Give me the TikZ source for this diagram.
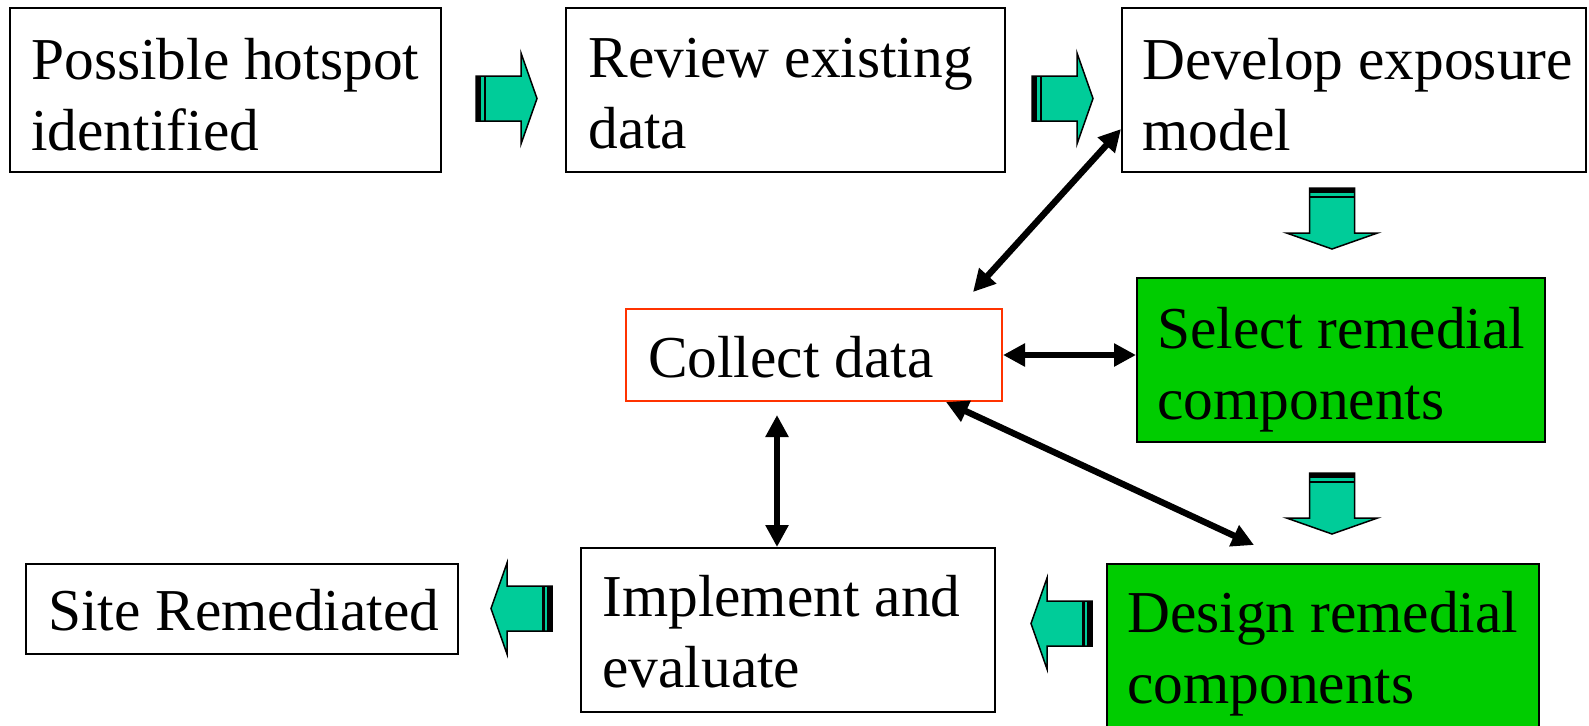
\documentclass[tikz,border=0pt]{standalone}
\usepackage{fontspec}
\setmainfont{Liberation Serif}
\usetikzlibrary{arrows.meta, positioning, calc}
\definecolor{arrowteal}{RGB}{0,204,153}
\definecolor{boxgreen}{RGB}{0,204,0}
\definecolor{collectred}{RGB}{255,51,0}

% striped block arrow, pointing right from its tail
\tikzset{
  stripearrow/.pic={
    \filldraw[fill=arrowteal, draw=black, line width=0.75pt]
      (0,-22.5) -- (45,-22.5) -- (45,-45.5) -- (61,0) -- (45,45.5) -- (45,22.5) -- (0,22.5) -- cycle;
    \fill[black] (0,-22.5) rectangle (5,22.5);
    \fill[black] (7.5,-22.5) rectangle (10,22.5);
  }
}

\begin{document}
\begin{tikzpicture}[
    x=0.5pt, y=-0.5pt,
    every node/.style={font=\fontsize{29.7}{35.5}\selectfont},
    box/.style={rectangle, draw=black, line width=1pt, inner sep=0pt},
    txt/.style={inner sep=0pt, align=left},
    biarrow/.style={{Triangle[length=11pt,width=11pt]}-{Triangle[length=11pt,width=11pt]}, line width=3.2pt}
]
\useasboundingbox (0,0) rectangle (1589,725);

% boxes
\node[box, minimum width=215.5pt, minimum height=82pt] (hotspot) at (225.5,90) {};
\node[box, minimum width=219.5pt, minimum height=82pt] (review) at (785.5,90) {};
\node[box, minimum width=232pt, minimum height=82pt] (develop) at (1354,90) {};
\node[box, draw=collectred, minimum width=188pt, minimum height=46pt] (collect) at (814,355) {};
\node[box, fill=boxgreen, minimum width=204pt, minimum height=82pt] (select) at (1341,360) {};
\node[box, minimum width=216pt, minimum height=45pt] (site) at (242,609) {};
\node[box, minimum width=207pt, minimum height=82pt] (implement) at (788,630) {};
\node[box, fill=boxgreen, minimum width=216pt, minimum height=82pt] (design) at (1323,646) {};

% texts
\node[txt, below right=15.2pt and 11pt of hotspot.north west] (hotspot-txt) {Possible hotspot\\identified};
\node[txt, below right=15.2pt and 11.5pt of review.north west] (review-txt) {Review existing\\data};
\node[txt, below right=15.2pt and 10.5pt of develop.north west] (develop-txt) {Develop exposure\\model};
\node[txt, below right=13.7pt and 11.3pt of collect.north west] (collect-txt) {Collect data};
\node[txt, below right=15pt and 10.5pt of select.north west] (select-txt) {Select remedial\\components};
\node[txt, below right=12.7pt and 11.5pt of site.north west] (site-txt) {Site Remediated};
\node[txt, below right=13.7pt and 11pt of implement.north west] (implement-txt) {Implement and\\evaluate};
\node[txt, below right=13.7pt and 10.5pt of design.north west] (design-txt) {Design remedial\\components};

% block arrows
\pic at (476,98.5) {stripearrow};
\pic at (1032,98.5) {stripearrow};
\pic[rotate=-90] at (1332,188) {stripearrow};
\pic[rotate=-90] at (1332,473) {stripearrow};
\pic[rotate=180] at (1092,623.5) {stripearrow};
\pic[rotate=180] at (552,608.5) {stripearrow};

% data links
\coordinate (evalpt) at ([xshift=-5.5pt]implement.north);
\draw[biarrow] ([yshift=-19.5pt]develop.west) -- ([xshift=-15pt,yshift=8pt]collect.north east);
\draw[biarrow] (collect.east) -- (collect.east -| select.west);
\draw[biarrow] ([xshift=-28.5pt]collect.south east) -- ([xshift=74pt,yshift=9pt]design.north west);
\draw[biarrow, shorten <=6.5pt] (collect.south -| evalpt) -- (evalpt);

\end{tikzpicture}
\end{document}
